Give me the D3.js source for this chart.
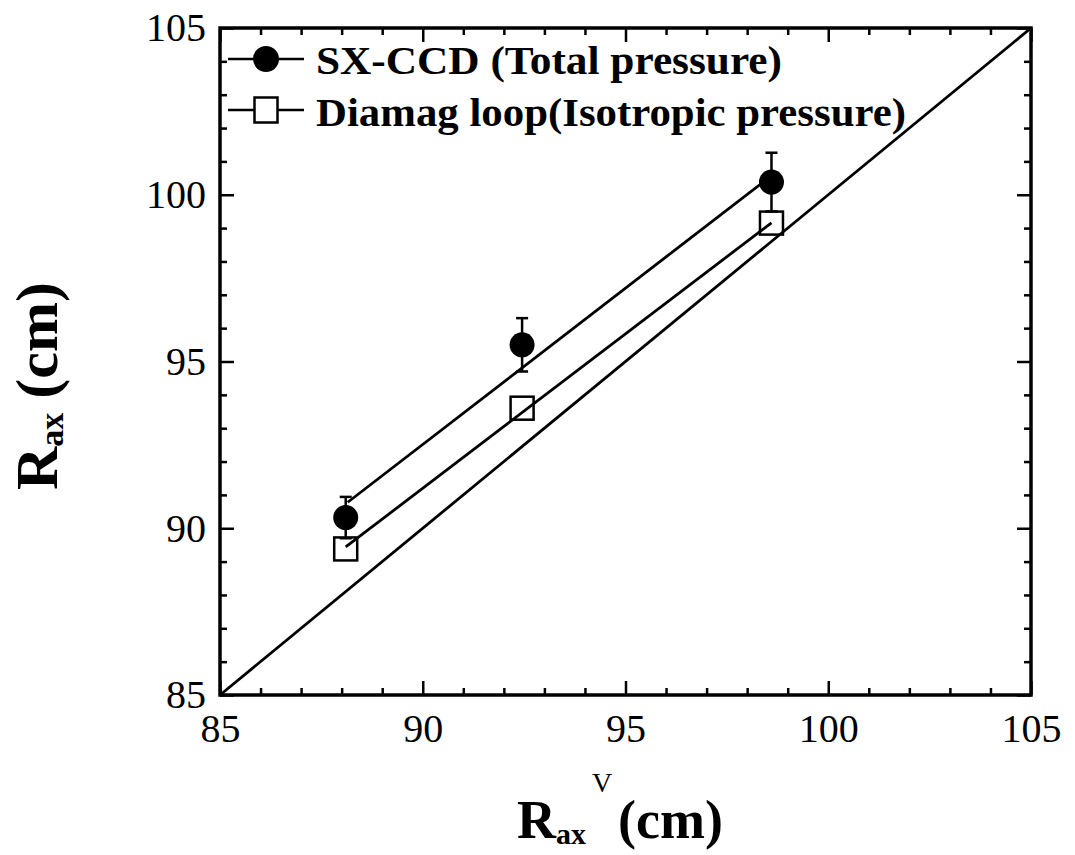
<!DOCTYPE html>
<html><head><meta charset="utf-8">
<script src="https://cdn.jsdelivr.net/npm/d3@7"></script>
<style>
body{margin:0;background:#fff;}
text{font-family:"Liberation Serif","DejaVu Serif",serif;}
</style></head>
<body>
<svg id="c" width="1075" height="855"></svg>
<script>
// ---- data ----
const sxX = [88.1, 92.45, 98.6];
const sxY = [90.32, 95.5, 100.38];
const sxErr = [0.62, 0.8, 0.88];
const dmX = [88.1, 92.45, 98.6];
const dmY = [89.38, 93.6, 99.15];
const sxFitX = [88.15, 98.65];
const sxFitY = [90.78, 100.62];
const dmFitX = [88.1, 98.6];
const dmFitY = [89.44, 99.16];
const refX = [85, 105];
const refY = [85, 105];
const majorTicks = [85, 90, 95, 100, 105];
const minorTicks = d3.range(85, 106).filter(v => v % 5 !== 0);
const legendLabels = ["SX-CCD (Total pressure)", "Diamag loop(Isotropic pressure)"];

const svg = d3.select("#c");
const L = 220, R = 1031, T = 28, B = 695;
const x = d3.scaleLinear().domain([85, 105]).range([L, R]);
const y = d3.scaleLinear().domain([85, 105]).range([B, T]);

function styleAxis(g, sw) {
  g.select(".domain").remove();
  g.selectAll(".tick line").attr("stroke", "#000").attr("stroke-width", sw);
  g.selectAll("text").attr("font-size", 40).attr("fill", "#000");
}
// bottom
svg.append("g").attr("transform", `translate(0,${B})`)
  .call(d3.axisBottom(x).tickValues(majorTicks).tickSize(-14).tickPadding(19).tickFormat(d3.format("d")))
  .call(g => styleAxis(g, 2.5));
svg.append("g").attr("transform", `translate(0,${B})`)
  .call(d3.axisBottom(x).tickValues(minorTicks).tickSize(-7).tickFormat(""))
  .call(g => styleAxis(g, 2.5));
// top
svg.append("g").attr("transform", `translate(0,${T})`)
  .call(d3.axisTop(x).tickValues(majorTicks).tickSize(-14).tickFormat(""))
  .call(g => styleAxis(g, 2.5));
svg.append("g").attr("transform", `translate(0,${T})`)
  .call(d3.axisTop(x).tickValues(minorTicks).tickSize(-7).tickFormat(""))
  .call(g => styleAxis(g, 2.5));
// left
svg.append("g").attr("transform", `translate(${L},0)`)
  .call(d3.axisLeft(y).tickValues(majorTicks).tickSize(-14).tickPadding(14).tickFormat(d3.format("d")))
  .call(g => styleAxis(g, 2.5));
svg.append("g").attr("transform", `translate(${L},0)`)
  .call(d3.axisLeft(y).tickValues(minorTicks).tickSize(-7).tickFormat(""))
  .call(g => styleAxis(g, 2.5));
// right
svg.append("g").attr("transform", `translate(${R},0)`)
  .call(d3.axisRight(y).tickValues(majorTicks).tickSize(-14).tickFormat(""))
  .call(g => styleAxis(g, 2.5));
svg.append("g").attr("transform", `translate(${R},0)`)
  .call(d3.axisRight(y).tickValues(minorTicks).tickSize(-7).tickFormat(""))
  .call(g => styleAxis(g, 2.5));

// frame
svg.append("rect").attr("x", L).attr("y", T).attr("width", R - L).attr("height", B - T)
  .attr("fill", "none").attr("stroke", "#000").attr("stroke-width", 3.5);

const line = d3.line().x(d => x(d[0])).y(d => y(d[1]));
function drawLine(xs, ys, sw) {
  svg.append("path").datum(xs.map((v, i) => [v, ys[i]]))
    .attr("d", line).attr("fill", "none").attr("stroke", "#000").attr("stroke-width", sw);
}
drawLine(refX, refY, 2.8);
drawLine(sxFitX, sxFitY, 2.8);
drawLine(dmFitX, dmFitY, 2.8);

// error bars
const eb = svg.append("g");
sxX.forEach((v, i) => {
  const cx = x(v), y1 = y(sxY[i] + sxErr[i]), y2 = y(sxY[i] - sxErr[i]);
  eb.append("line").attr("x1", cx).attr("x2", cx).attr("y1", y1).attr("y2", y2).attr("stroke", "#000").attr("stroke-width", 2.5);
  eb.append("line").attr("x1", cx - 6).attr("x2", cx + 6).attr("y1", y1).attr("y2", y1).attr("stroke", "#000").attr("stroke-width", 2.5);
  eb.append("line").attr("x1", cx - 6).attr("x2", cx + 6).attr("y1", y2).attr("y2", y2).attr("stroke", "#000").attr("stroke-width", 2.5);
});
// squares
const S = 23;
svg.append("g").selectAll("rect").data(dmX.map((v, i) => [v, dmY[i]])).join("rect")
  .attr("x", d => x(d[0]) - S / 2).attr("y", d => y(d[1]) - S / 2)
  .attr("width", S).attr("height", S).attr("fill", "none").attr("stroke", "#000").attr("stroke-width", 2.5);
// circles
svg.append("g").selectAll("circle").data(sxX.map((v, i) => [v, sxY[i]])).join("circle")
  .attr("cx", d => x(d[0])).attr("cy", d => y(d[1])).attr("r", 12.5).attr("fill", "#000");

// legend
const lg = svg.append("g");
const lx0 = 228, lx1 = 304, lmx = 266;
lg.append("line").attr("x1", lx0).attr("x2", lx1).attr("y1", 59).attr("y2", 59).attr("stroke", "#000").attr("stroke-width", 2.5);
lg.append("circle").attr("cx", lmx).attr("cy", 59).attr("r", 13).attr("fill", "#000");
lg.append("line").attr("x1", lx0).attr("x2", lx1).attr("y1", 110).attr("y2", 110).attr("stroke", "#000").attr("stroke-width", 2.5);
lg.append("rect").attr("x", lmx - 11.5).attr("y", 110 - 12.5).attr("width", 23).attr("height", 25).attr("fill", "#fff").attr("stroke", "#000").attr("stroke-width", 2.5);
lg.append("text").attr("x", 316).attr("y", 74).attr("font-size", 40).attr("font-weight", "bold")
  .attr("textLength", 466).attr("lengthAdjust", "spacingAndGlyphs").text(legendLabels[0]);
lg.append("text").attr("x", 316).attr("y", 126).attr("font-size", 40).attr("font-weight", "bold")
  .attr("textLength", 590).attr("lengthAdjust", "spacingAndGlyphs").text(legendLabels[1]);

// axis titles
const xt = svg.append("text").attr("y", 838).attr("font-size", 54).attr("font-weight", "bold");
xt.append("tspan").attr("x", 517).attr("y", 838).text("R");
xt.append("tspan").attr("x", 556).attr("y", 844).attr("font-size", 30).text("ax");
xt.append("tspan").attr("x", 592).attr("y", 792).attr("font-size", 28).attr("font-weight", "normal").text("V");
xt.append("tspan").attr("x", 618).attr("y", 838).text("(cm)");

const yt = svg.append("text").attr("transform", "translate(57,490) rotate(-90)").attr("font-size", 60).attr("font-weight", "bold");
yt.append("tspan").text("R");
yt.append("tspan").attr("font-size", 34).attr("dy", 6).text("ax");
yt.append("tspan").attr("dx", 14).attr("dy", -6).text("(cm)");
</script>
</body></html>
